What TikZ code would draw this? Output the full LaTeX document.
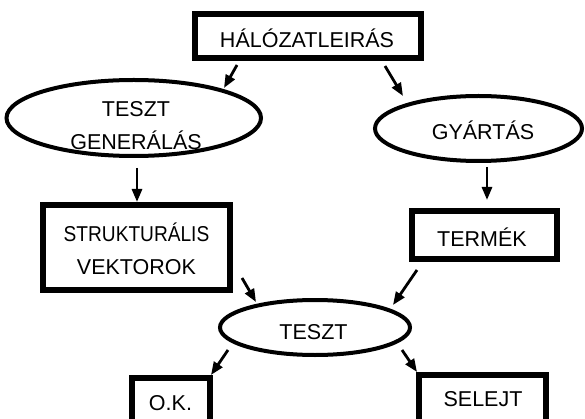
\documentclass[tikz,border=0pt]{standalone}
\usepackage{fontspec}
\setmainfont{Liberation Sans}
\newfontfamily\narrowfont{Liberation Sans}[FakeStretch=0.89]
\usetikzlibrary{arrows.meta,shapes.geometric}
\begin{document}
\begin{tikzpicture}[x=1pt,y=-1pt,
  box/.style={draw,line width=6pt,inner sep=0pt},
  oval/.style={draw,ellipse,line width=4pt,inner sep=0pt},
  lbl/.style={font=\fontsize{21.5}{33}\selectfont,align=center,inner sep=0pt},
  arr/.style={line width=2.8pt,-{Triangle[length=13pt,width=10pt]}}]
\useasboundingbox (0,0) rectangle (585,419);
\clip (0,0) rectangle (585,419);
% boxes
\node[box,line width=5.5pt,minimum width=226pt,minimum height=44pt] (hal) at (308,36) {};
\node[lbl] (halt) at (307,38) {HÁLÓZATLEIRÁS};
\node[box,minimum width=187pt,minimum height=85pt] (str) at (136.5,247.5) {};
\node[lbl] (strt) at (136.5,248.5) {{\narrowfont STRUKTURÁLIS}\\VEKTOROK};
\node[box,minimum width=145pt,minimum height=48pt] (ter) at (484.5,235) {};
\node[lbl] (tert) at (482,237.5) {TERMÉK};
\node[box,minimum width=78pt,minimum height=51pt] (ok) at (171,403.5) {};
\node[lbl] (okt) at (170.5,403.5) {O.K.};
\node[box,minimum width=127pt,minimum height=48pt] (sel) at (482.5,399) {};
\node[lbl] (selt) at (483,399) {SELEJT};
% ellipses
\node[oval,minimum width=254.5pt,minimum height=76pt] (tg) at (133.75,118) {};
\node[lbl] (tgt) at (136,125.5) {TESZT\\GENERÁLÁS};
\node[oval,minimum width=207pt,minimum height=65pt] (gy) at (478.5,128.5) {};
\node[lbl] (gyt) at (483,130) {GYÁRTÁS};
\node[oval,minimum width=190pt,minimum height=55pt] (te) at (315,327.5) {};
\node[lbl] (tet) at (313.5,332.5) {TESZT};
% arrow end points
\coordinate (a1s) at (237,65);  \coordinate (a1e) at (224,88);
\coordinate (a2s) at (385,66);  \coordinate (a2e) at (403,96);
\coordinate (a3s) at (137,168); \coordinate (a3e) at (137,202);
\coordinate (a4s) at (487,167); \coordinate (a4e) at (487,200);
\coordinate (a5s) at (242,278); \coordinate (a5e) at (256,302);
\coordinate (a6s) at (417,270); \coordinate (a6e) at (393,305);
\coordinate (a7s) at (228,350); \coordinate (a7e) at (211,375);
\coordinate (a8s) at (402,350); \coordinate (a8e) at (417,372);
\draw[arr] (a1s) -- (a1e);
\draw[arr] (a2s) -- (a2e);
\draw[arr] (a3s) -- (a3e);
\draw[arr] (a4s) -- (a4e);
\draw[arr] (a5s) -- (a5e);
\draw[arr] (a6s) -- (a6e);
\draw[arr] (a7s) -- (a7e);
\draw[arr] (a8s) -- (a8e);
\end{tikzpicture}
\end{document}
